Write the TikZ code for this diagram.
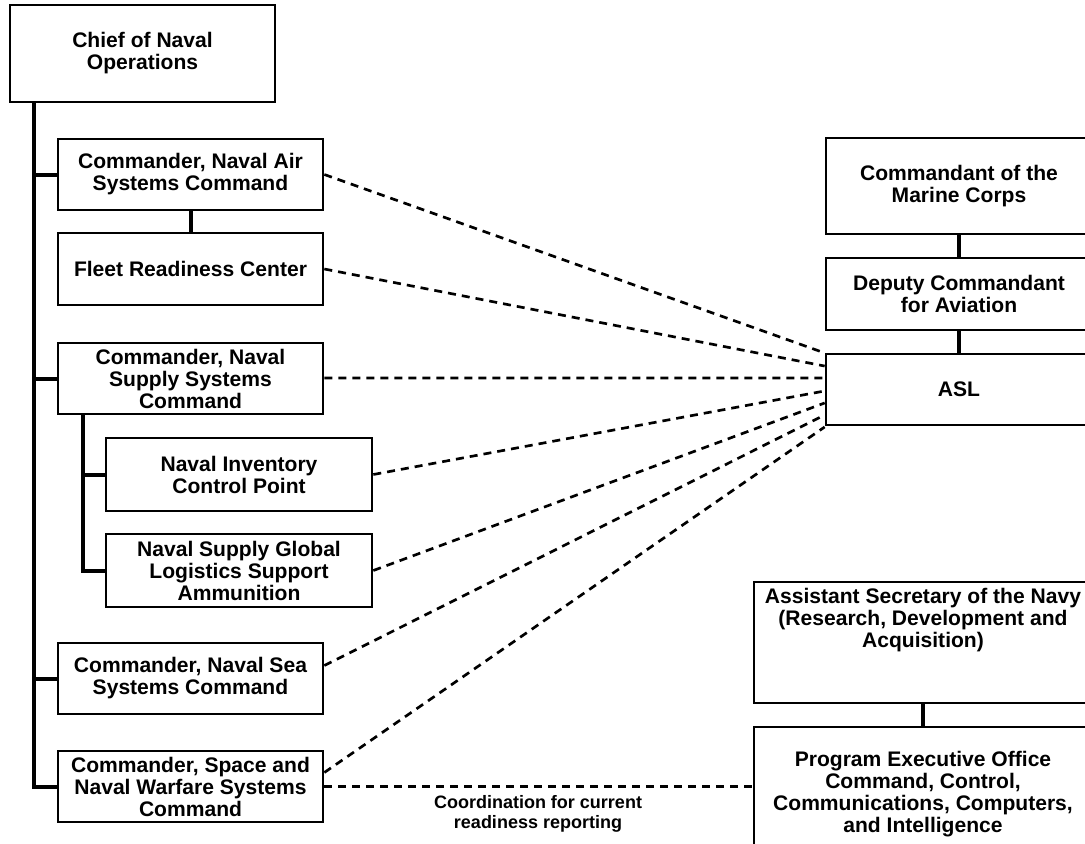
\documentclass[tikz,border=0pt]{standalone}
\usepackage{fontspec}
\setmainfont{Liberation Sans}
\begin{document}
\begin{tikzpicture}[x=0.75pt,y=-0.75pt,
  box/.style={draw, line width=2pt, fill=white, align=center, inner sep=0pt,
    font=\fontsize{15.8}{16.5}\selectfont\bfseries},
  wh/.style 2 args={minimum width=#1*0.75pt, minimum height=#2*0.75pt},
  conn/.style={line width=3pt, line join=miter},
  dline/.style={line width=2pt, dash pattern=on 6pt off 4.5pt},
  lbl/.style={align=center, font=\fontsize{13.5}{14.5}\selectfont\bfseries}]
\clip (0,0) rectangle (1085,843);
\fill[white] (0,0) rectangle (1085,843);
% left column
\node[box, wh={265}{97}] (cno) at (142.5,53.5) {Chief of Naval\\Operations};
\node[box, wh={265}{71}] (navair) at (190.5,174.5) {Commander, Naval Air\\Systems Command};
\node[box, wh={265}{72}] (frc) at (190.5,269) {Fleet Readiness Center};
\node[box, wh={265}{71}] (navsup) at (190.5,378.5) {Commander, Naval\\Supply Systems\\Command};
\node[box, wh={266}{73}] (nicp) at (239,474.5) {Naval Inventory\\Control Point};
\node[box, wh={266}{73}] (nsglsa) at (239,570.5) {Naval Supply Global\\Logistics Support\\Ammunition};
\node[box, wh={265}{71}] (navsea) at (190.5,678.5) {Commander, Naval Sea\\Systems Command};
\node[box, wh={265}{71}] (spawar) at (190.5,786.5) {Commander, Space and\\Naval Warfare Systems\\Command};
% right column
\node[box, wh={266}{96}] (cmc) at (959,186) {Commandant of the\\Marine Corps};
\node[box, wh={266}{72}] (dca) at (959,294) {Deputy Commandant\\for Aviation};
\node[box, wh={266}{71}] (asl) at (959,389.5) {ASL};
\node[box, wh={338}{121}] (asn) at (923,642.5) {Assistant Secretary of the Navy\\(Research, Development and\\Acquisition)\\[20pt]\mbox{}};
\node[box, wh={338}{134}] (peo) at (923,794) {Program Executive Office\\Command, Control,\\Communications, Computers,\\and Intelligence};
% solid connectors
\coordinate (tr) at (34,0);
\coordinate (st) at (83,0);
\draw[conn] (cno.south -| tr) -- (spawar.west -| tr) -- (spawar.west);
\draw[conn] (navair.west -| tr) -- (navair.west);
\draw[conn] (navsup.west -| tr) -- (navsup.west);
\draw[conn] (navsea.west -| tr) -- (navsea.west);
\draw[conn] (navsup.south -| st) -- (nsglsa.west -| st) -- (nsglsa.west);
\draw[conn] (nicp.west -| st) -- (nicp.west);
\draw[conn] (navair.south) -- (frc.north);
\draw[conn] (cmc.south) -- (dca.north);
\draw[conn] (dca.south) -- (asl.north);
\draw[conn] (asn.south) -- (peo.north);
% dashed connectors to ASL
\draw[dline] (navair.east) -- ([yshift=27.4pt]asl.west);
\draw[dline] (frc.east) -- ([yshift=17.6pt]asl.west);
\draw[dline] ([yshift=0.4pt]navsup.east) -- ([yshift=8.6pt]asl.west);
\draw[dline] (nicp.east) -- ([yshift=-1.1pt]asl.west);
\draw[dline] (nsglsa.east) -- ([yshift=-10.1pt]asl.west);
\draw[dline] ([yshift=9.75pt]navsea.east) -- ([yshift=-19.1pt]asl.west);
\draw[dline] ([yshift=10.5pt]spawar.east) -- ([yshift=-28.1pt]asl.west);
\draw[dline] (spawar.east) -- (spawar.east -| peo.west);
\node[lbl] (coord) at (538,814) {Coordination for current\\readiness reporting};
\end{tikzpicture}
\end{document}
